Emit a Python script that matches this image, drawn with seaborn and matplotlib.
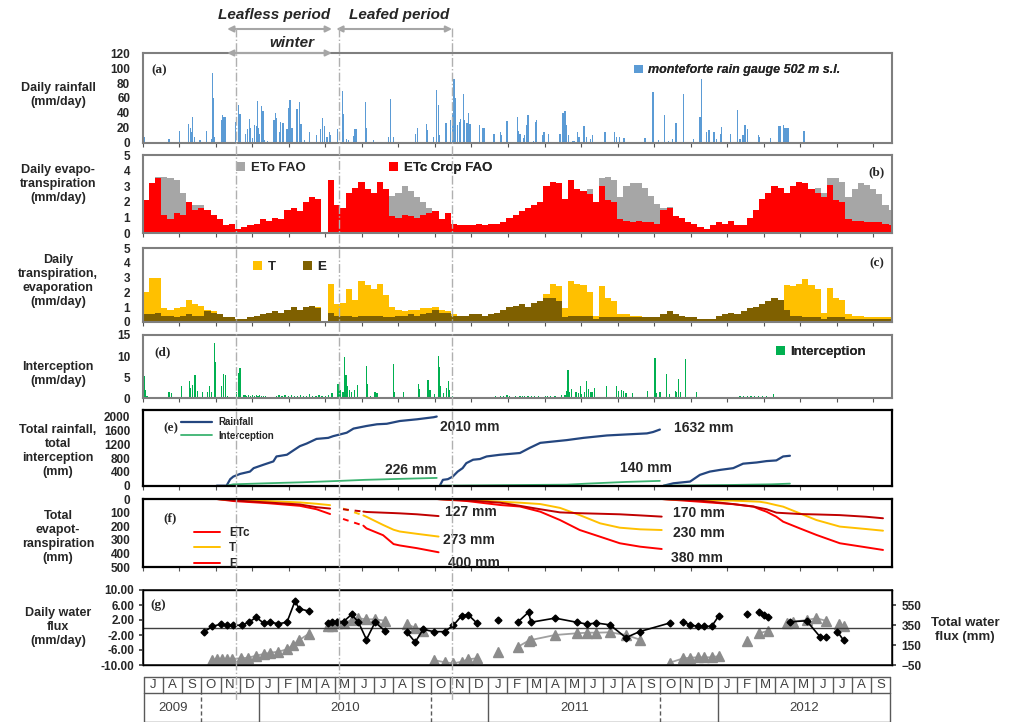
import numpy as np
import matplotlib.pyplot as plt
import matplotlib.transforms as mtransforms
from matplotlib.lines import Line2D
from matplotlib.patches import Patch
from matplotlib.ticker import MultipleLocator, FormatStrFormatter
import seaborn as sns

nan = np.nan

# ---- (a) daily rainfall, day counted from the left edge of the time axis ----
rain_day = [1, 3, 42, 44, 60, 74, 77, 80, 81, 84,
            93, 104, 111, 113, 115, 117, 128, 130, 132, 134,
            151, 155, 158, 159, 167, 170, 173, 175, 178, 181,
            184, 186, 188, 190, 193, 195, 196, 198, 203, 213,
            216, 217, 222, 224, 227, 228, 234, 236, 238, 239,
            241, 243, 250, 251, 255, 257, 263, 270, 271, 282,
            288, 292, 295, 299, 303, 305, 316, 324, 326, 331,
            334, 342, 344, 346, 361, 363, 374, 399, 402, 407,
            442, 446, 460, 462, 472, 477, 480, 482, 492, 499,
            503, 505, 508, 511, 514, 516, 520, 522, 526, 528,
            531, 547, 552, 554, 570, 580, 582, 591, 608, 610,
            612, 618, 620, 623, 625, 634, 637, 639, 649, 651,
            658, 677, 682, 685, 688, 691, 698, 701, 706, 708,
            716, 720, 726, 730, 750, 766, 769, 774, 781, 815,
            828, 837, 846, 853, 860, 865, 877, 894, 904, 906,
            915, 918, 920, 926, 928, 931, 937, 939, 953, 965,
            969, 974, 977, 981, 999, 1001, 1019, 1031, 1034, 1039,
            1042, 1045, 1047, 1073]
rain_mm = [34, 8, 5, 5, 16, 25, 20, 15, 35, 8,
           3, 16, 5, 94, 60, 8, 30, 37, 35, 35,
           28, 50, 38, 38, 12, 18, 32, 20, 6, 24,
           22, 56, 20, 12, 49, 42, 24, 4, 2, 30,
           40, 33, 15, 28, 27, 27, 18, 47, 20, 57,
           20, 20, 45, 45, 55, 25, 4, 14, 8, 10,
           18, 33, 22, 8, 14, 10, 18, 69, 38, 5,
           4, 9, 18, 18, 54, 20, 4, 8, 58, 8,
           12, 20, 25, 17, 7, 71, 50, 10, 26, 30,
           40, 86, 60, 24, 28, 32, 66, 30, 26, 40,
           25, 24, 20, 20, 12, 14, 10, 29, 35, 16,
           12, 6, 10, 24, 37, 2, 28, 30, 10, 15,
           12, 12, 40, 42, 24, 10, 2, 2, 14, 8,
           22, 8, 5, 10, 14, 14, 8, 8, 6, 6,
           68, 3, 37, 2, 5, 27, 66, 5, 35, 85,
           15, 17, 17, 15, 14, 5, 12, 21, 12, 44,
           5, 10, 24, 18, 10, 8, 6, 23, 22, 24,
           20, 20, 20, 16]

# ---- (b), (c) evapotranspiration terms, 10-day blocks ----
et_day = np.arange(0, 1220, 10)
eto = [2.1, 3.2, 3.6, 3.6, 3.5, 3.4, 2.6, 2.0, 1.8, 1.8,
       1.5, 1.2, 0.9, 0.5, 0.6, 0.3, 0.4, 0.5, 0.6, 0.9,
       0.8, 1.0, 0.9, 1.5, 1.6, 1.4, 2.0, 2.3, 2.2, 0.0,
       3.4, 1.8, 1.6, 2.6, 2.9, 3.3, 2.8, 2.6, 3.3, 2.8,
       2.4, 2.6, 3.0, 2.7, 2.3, 2.0, 1.6, 1.4, 0.9, 1.3,
       0.6, 0.5, 0.5, 0.5, 0.6, 0.5, 0.6, 0.6, 0.7, 1.0,
       1.2, 1.4, 1.6, 1.8, 2.0, 3.0, 3.3, 3.2, 2.2, 3.4,
       2.8, 2.7, 2.8, 2.0, 3.5, 3.6, 3.4, 2.3, 3.0, 3.2,
       3.2, 2.9, 2.4, 1.9, 1.6, 1.7, 1.1, 1.0, 0.7, 0.6,
       0.4, 0.3, 0.5, 0.7, 0.6, 0.8, 0.5, 0.5, 1.0, 1.5,
       2.2, 2.6, 3.0, 2.9, 2.6, 3.0, 3.3, 3.2, 2.8, 2.9,
       2.6, 3.5, 3.5, 3.3, 2.3, 2.8, 3.2, 3.1, 2.8, 2.5,
       1.8, 1.5]
etc = [2.1, 3.2, 3.5, 1.2, 0.9, 1.3, 1.2, 2.0, 1.5, 1.6,
       1.5, 1.2, 0.9, 0.5, 0.6, 0.3, 0.4, 0.5, 0.6, 0.9,
       0.8, 1.0, 0.9, 1.5, 1.6, 1.4, 2.0, 2.3, 2.2, 0.0,
       3.4, 1.8, 1.6, 2.6, 2.9, 3.3, 2.8, 2.6, 3.3, 2.8,
       1.1, 1.0, 1.2, 1.1, 1.0, 1.2, 1.3, 1.4, 0.9, 1.3,
       0.6, 0.5, 0.5, 0.5, 0.6, 0.5, 0.6, 0.6, 0.7, 1.0,
       1.2, 1.4, 1.6, 1.8, 2.0, 3.0, 3.3, 3.2, 2.2, 3.4,
       2.8, 2.7, 2.5, 2.0, 3.0, 2.1, 2.0, 0.9, 0.8, 0.7,
       0.8, 0.7, 0.7, 0.6, 1.5, 1.6, 1.1, 1.0, 0.7, 0.6,
       0.4, 0.3, 0.5, 0.7, 0.6, 0.8, 0.5, 0.5, 1.0, 1.5,
       2.2, 2.6, 3.0, 2.9, 2.6, 3.0, 3.3, 3.2, 2.8, 2.6,
       2.3, 3.1, 2.1, 2.0, 0.9, 0.8, 0.8, 0.7, 0.7, 0.7,
       0.6, 0.5]
transp = [2.0, 3.0, 3.0, 0.9, 0.8, 0.9, 1.0, 1.5, 1.2, 1.1,
          0.8, 0.7, 0.5, 0.3, 0.3, 0.2, 0.2, 0.3, 0.4, 0.5,
          0.6, 0.7, 0.6, 0.8, 1.0, 0.8, 1.0, 1.1, 1.0, 0.0,
          2.6, 1.2, 1.3, 2.2, 1.5, 2.8, 2.5, 2.2, 2.6, 1.8,
          1.0, 0.8, 0.7, 0.8, 0.8, 0.9, 0.9, 1.0, 0.8, 0.7,
          0.5, 0.4, 0.4, 0.5, 0.5, 0.4, 0.5, 0.6, 0.8, 1.0,
          1.1, 1.2, 1.0, 1.3, 1.4, 1.9, 2.6, 2.4, 0.9, 2.8,
          2.6, 2.5, 2.0, 0.4, 2.4, 1.6, 1.4, 0.5, 0.5, 0.4,
          0.4, 0.3, 0.3, 0.3, 0.5, 0.7, 0.5, 0.4, 0.3, 0.3,
          0.2, 0.2, 0.2, 0.4, 0.5, 0.6, 0.5, 0.7, 0.9, 1.0,
          1.2, 1.4, 1.6, 1.5, 2.5, 2.4, 2.6, 2.9, 2.5, 2.2,
          0.6, 2.3, 1.6, 1.5, 0.5, 0.4, 0.4, 0.3, 0.3, 0.3,
          0.3, 0.3]
evap = [0.5, 0.5, 0.6, 0.4, 0.4, 0.3, 0.4, 0.5, 0.4, 0.4,
        0.7, 0.6, 0.5, 0.3, 0.3, 0.2, 0.2, 0.3, 0.4, 0.5,
        0.6, 0.7, 0.6, 0.8, 1.0, 0.8, 1.0, 1.1, 0.9, 0.0,
        0.6, 0.4, 0.4, 0.4, 0.3, 0.4, 0.4, 0.4, 0.4, 0.3,
        0.3, 0.4, 0.4, 0.5, 0.4, 0.5, 0.6, 0.8, 0.6, 0.6,
        0.4, 0.4, 0.4, 0.5, 0.5, 0.4, 0.5, 0.6, 0.8, 1.0,
        1.1, 1.2, 1.0, 1.3, 1.4, 1.6, 1.6, 1.4, 0.3, 0.4,
        0.4, 0.4, 0.4, 0.2, 0.3, 0.3, 0.3, 0.3, 0.3, 0.3,
        0.3, 0.3, 0.3, 0.3, 0.5, 0.7, 0.5, 0.4, 0.3, 0.3,
        0.2, 0.2, 0.2, 0.4, 0.5, 0.6, 0.5, 0.7, 0.9, 1.0,
        1.2, 1.4, 1.6, 1.5, 0.8, 0.4, 0.4, 0.3, 0.3, 0.3,
        0.2, 0.3, 0.3, 0.3, 0.2, 0.2, 0.2, 0.2, 0.2, 0.2,
        0.2, 0.2]

# ---- (d) interception ----
icpt_day = [0, 2, 4, 7, 42, 44, 47, 63, 76, 78,
            81, 85, 89, 97, 105, 108, 112, 117, 118, 128,
            131, 134, 137, 152, 155, 158, 163, 166, 169, 172,
            175, 178, 181, 184, 187, 190, 193, 196, 199, 217,
            221, 226, 231, 236, 241, 246, 251, 256, 261, 266,
            271, 276, 281, 286, 291, 296, 301, 307, 317, 320,
            325, 328, 330, 332, 335, 339, 344, 348, 363, 365,
            370, 377, 380, 407, 409, 423, 447, 449, 463, 466,
            473, 480, 481, 483, 488, 493, 496, 498, 502, 572,
            580, 585, 591, 595, 605, 612, 616, 620, 625, 631,
            636, 642, 653, 657, 661, 669, 680, 685, 688, 690,
            692, 696, 703, 707, 710, 712, 717, 720, 723, 726,
            729, 733, 753, 769, 772, 777, 780, 784, 795, 819,
            831, 834, 838, 840, 850, 855, 864, 866, 869, 872,
            880, 881, 898, 904, 910, 916, 922, 928, 934, 940,
            946, 952, 958, 969, 975, 981, 987, 993, 999, 1005,
            1012, 1023, 1034, 1040, 1046, 1052]
icpt_mm = [2.0, 5.2, 2.0, 0.5, 1.6, 1.6, 1.2, 2.8, 4.0, 2.5,
           3.2, 5.5, 1.8, 1.6, 1.5, 2.8, 1.5, 13.0, 8.5, 3.0,
           5.8, 5.5, 0.5, 1.5, 6.0, 7.2, 0.9, 0.7, 0.6, 0.8,
           0.6, 0.7, 0.6, 0.8, 0.6, 0.7, 0.6, 0.5, 0.6, 0.6,
           0.7, 0.5, 0.8, 0.6, 0.7, 0.5, 0.6, 0.8, 0.5, 0.6,
           1.0, 0.5, 0.6, 0.7, 0.5, 0.6, 0.8, 1.2, 3.5, 2.0,
           1.5, 9.7, 5.5, 3.0, 2.0, 1.5, 2.0, 3.2, 7.6, 3.5,
           0.5, 1.5, 1.2, 8.2, 1.5, 1.4, 3.4, 2.2, 4.3, 2.0,
           1.0, 10.0, 7.3, 3.0, 1.2, 2.5, 4.2, 2.0, 0.5, 0.5,
           0.5, 0.5, 0.8, 0.5, 0.5, 0.6, 0.6, 0.6, 0.6, 0.6,
           0.5, 0.5, 0.5, 0.5, 0.5, 0.5, 0.8, 0.8, 1.8, 6.7,
           1.5, 2.3, 1.5, 1.2, 2.8, 1.0, 1.5, 4.0, 2.2, 1.5,
           1.5, 2.4, 2.8, 2.8, 1.8, 1.9, 1.7, 1.2, 1.2, 1.8,
           9.6, 1.2, 1.5, 1.6, 5.8, 1.0, 1.8, 1.6, 4.6, 1.4,
           9.4, 3.6, 1.5, 0.4, 0.4, 0.4, 0.4, 0.4, 0.4, 0.4,
           0.4, 0.4, 0.4, 0.5, 0.5, 0.5, 0.5, 0.5, 0.6, 0.5,
           0.5, 1.0, 0.4, 0.4, 0.4, 0.4]

# ---- (e) cumulative rainfall and interception per hydrological year ----
rain1_day = [120, 136, 142, 147, 158, 174, 180, 196, 212, 217, 234, 244, 255,
             266, 282, 301, 309, 331, 342, 363, 380, 396, 417, 445, 472, 477]
rain1_cum = [0, 0, 190, 265, 343, 410, 510, 610, 706, 850, 900, 1020, 1150,
             1225, 1360, 1390, 1440, 1540, 1660, 1735, 1785, 1800, 1880, 1930, 1990, 2010]
rain2_day = [482, 487, 495, 503, 511, 519, 525, 536, 547, 558, 580,
             612, 628, 645, 661, 688, 715, 753, 785, 818, 828, 839]
rain2_cum = [0, 170, 190, 265, 410, 510, 655, 755, 775, 850, 900,
             950, 1100, 1245, 1275, 1325, 1390, 1460, 1490, 1520, 1560, 1632]
rain3_day = [845, 861, 877, 888, 904, 920, 937, 958, 974, 996, 1012, 1028, 1039, 1050]
rain3_cum = [0, 70, 100, 120, 315, 410, 460, 510, 640, 675, 715, 735, 850, 870]
icum1_day = [136, 147, 200, 260, 320, 360, 420, 477]
icum1 = [0, 40, 70, 100, 140, 170, 200, 226]
icum2_day = [482, 612, 688, 720, 785, 839]
icum2 = [0, 20, 30, 60, 110, 140]
icum3_day = [845, 950, 1020, 1050]
icum3 = [0, 20, 40, 60]

# ---- (f) cumulative ETc, T, E ----
f1a_day = [120, 147, 201, 255, 282, 304]
f1a_etc = [0, 15, 30, 50, 75, 110]
f1a_t = [0, 5, 15, 25, 35, 45]
f1a_e = [0, 10, 25, 40, 60, 70]
f1b_day = [325, 358]
f1b_etc = [146, 195]
f1b_t = [70, 120]
f1b_e = [75, 92]
f1c_day = [358, 363, 390, 407, 417, 445, 480]
f1c_etc = [195, 215, 265, 330, 340, 360, 390]
f1c_t = [120, 130, 190, 225, 238, 255, 275]
f1c_e = [92, 95, 100, 103, 105, 112, 125]
f2_day = [477, 526, 580, 612, 645, 677, 709, 742, 774, 807, 842]
f2_etc = [0, 15, 44, 55, 93, 154, 227, 276, 324, 349, 366]
f2_t = [0, 5, 20, 27, 37, 65, 118, 178, 210, 222, 227]
f2_e = [0, 10, 27, 50, 75, 98, 104, 108, 112, 120, 129]
f3_day = [842, 904, 958, 991, 1001, 1012, 1028, 1039, 1066, 1093, 1131, 1174, 1201]
f3_etc = [0, 20, 38, 56, 75, 93, 130, 166, 215, 263, 324, 354, 373]
f3_t = [0, 8, 12, 18, 20, 28, 45, 56, 105, 154, 202, 220, 232]
f3_e = [0, 12, 37, 55, 65, 75, 100, 103, 110, 113, 118, 130, 141]

# ---- (g) daily water flux (left) and total water flux (right) ----
flux_day = [100, 113, 127, 136, 147, 161, 173, 184, 196, 207, 220, 234, 247, 254, 269, nan,
            301, 307, 315, 326, 339, 350, 363, 377, 393, nan,
            428, 442, 455, 472, 490, 504, 518, 528, 542, nan,
            576, nan,
            609, 626, 630, 669, 704, 721, 736, 758, 784, 806, 855, nan,
            877, 888, 901, 911, 923, 935, nan,
            981, nan,
            1000, 1008, 1015, nan,
            1050, 1077, 1099, 1109, nan,
            1127, 1137]
flux_val = [-1.1, 0.3, 0.9, 0.6, 0.6, 0.6, 1.5, 2.7, 1.2, 1.4, 1.0, 1.4, 7.0, 5.0, 4.4, nan,
            1.1, 1.6, 1.6, 1.6, 3.5, 1.4, -3.2, 1.4, -0.9, nan,
            -1.1, -3.9, -0.5, -1.1, -1.1, 0.6, 3.2, 3.4, 1.2, nan,
            2.0, nan,
            1.5, 4.1, 1.4, 2.5, 1.4, 0.9, 1.2, 0.7, -2.7, -1.1, 1.2, nan,
            1.4, 0.7, 0.3, 0.3, 0.3, 3.2, nan,
            3.6, nan,
            4.1, 3.4, 2.7, nan,
            1.5, 1.8, -2.5, -2.5, nan,
            -1.1, -3.4]
tot_day = [113, 121, 129, 136, 145, 159, 171, 184, 196, 207, 220, 234, 244, 254, 269, nan,
           301, 307, 315, 326, 339, 350, 363, 377, 393, nan,
           428, 442, 455, nan,
           472, 490, 504, 518, 528, 542, nan,
           576, nan,
           609, 626, 630, 669, 704, 721, 736, 758, 784, 806, nan,
           855, 877, 888, 901, 911, 923, 935, nan,
           981, nan,
           1000, 1015, nan,
           1045, 1055, 1077, 1093, 1108, nan,
           1129, 1137]
tot_val = [0, 7, 7, 10, 10, 17, 23, 43, 60, 73, 83, 107, 150, 200, 260, nan,
           340, 340, 367, 373, 400, 417, 407, 407, 393, nan,
           360, 323, 290, nan,
           0, -23, -33, -17, 7, 17, nan,
           83, nan,
           133, 193, 200, 250, 267, 273, 273, 277, 250, 205, nan,
           -27, 17, 23, 27, 27, 27, 40, nan,
           193, nan,
           267, 293, nan,
           367, 383, 400, 417, 393, nan,
           360, 343]

# ---- period markers and calendar strip ----
period_lines = [151, 318, 502]
months = list("JASONDJFMAMJJASONDJFMAMJJASONDJFMAMJJAS")
year_labels = ["2009", "", "2010", "", "2011", "", "2012"]
year_months = [3, 3, 9, 3, 9, 3, 9]

sns.set_theme(style="white")
plt.rcParams["font.family"] = ["Liberation Sans", "DejaVu Sans"]
plt.rcParams["font.weight"] = "bold"

BLUE, GRAY, RED, DARKRED = "#5B9BD5", "#A6A6A6", "#FF0000", "#C00000"
YELLOW, BROWN, GREEN = "#FFC000", "#7F6000", "#00B050"
NAVY, LGREEN = "#24467F", "#3CB371"
TICK = 8.5

W, H = 1011.0, 722.0
L, R = 142.7, 892.0
XMAX = (R - L) / 0.6164

fig = plt.figure(figsize=(W / 100, H / 100), dpi=100)


def panel(top, bottom, left=L, right=R):
    return fig.add_axes([left / W, 1 - bottom / H, (right - left) / W, (bottom - top) / H])


def style(ax, edge="#7F7F7F", lw=1.5, xticks=True):
    ax.set_xlim(0, XMAX)
    ax.xaxis.set_major_locator(MultipleLocator(59.26))
    ax.tick_params(axis="x", bottom=xticks, length=3, width=0.8, color="#555555",
                   labelbottom=False, direction="out")
    ax.tick_params(axis="y", left=False, labelsize=TICK, pad=3)
    for s in ax.spines.values():
        s.set_color(edge)
        s.set_linewidth(lw)
    ax.grid(False)


def tag(ax, s, x, y, ha="left"):
    ax.text(x, y, s, transform=ax.transAxes, ha=ha, va="center", fontsize=9.5,
            fontweight="bold", family="Liberation Serif")


def square_key(ax, color, label, x, y, size=9.5, style_="normal"):
    leg = ax.legend([Patch(facecolor=color, edgecolor="none")], [label], loc="center left",
                    bbox_to_anchor=(x, y), frameon=False, borderpad=0, borderaxespad=0,
                    handlelength=0.7, handleheight=0.7, handletextpad=0.4,
                    prop=dict(size=size, weight="bold", style=style_))
    ax.add_artist(leg)


# (a)
ax_a = panel(53.3, 142.7)
style(ax_a)
ax_a.bar(rain_day, rain_mm, width=2.0, color=BLUE, linewidth=0)
ax_a.set_ylim(0, 120)
ax_a.set_yticks(range(0, 121, 20))
tag(ax_a, "(a)", 0.012, 0.81)
square_key(ax_a, BLUE, "monteforte rain gauge 502 m s.l.", 0.656, 0.81, size=9, style_="italic")

# (b)
ax_b = panel(155, 233.3)
style(ax_b)
ax_b.bar(et_day, eto, width=10, align="edge", color=GRAY, linewidth=0)
ax_b.bar(et_day, etc, width=10, align="edge", color=RED, linewidth=0)
ax_b.set_ylim(0, 5)
ax_b.set_yticks(range(0, 6))
tag(ax_b, "(b)", 0.99, 0.78, ha="right")
square_key(ax_b, GRAY, "ETo FAO", (236 - L) / (R - L), 0.83)
square_key(ax_b, RED, "ETc Crop FAO", (389 - L) / (R - L), 0.83)

# (c)
ax_c = panel(248.3, 321.7)
style(ax_c)
ax_c.bar(et_day, transp, width=10, align="edge", color=YELLOW, linewidth=0)
ax_c.bar(et_day, evap, width=10, align="edge", color=BROWN, linewidth=0)
ax_c.set_ylim(0, 5)
ax_c.set_yticks(range(0, 6))
tag(ax_c, "(c)", 0.99, 0.79, ha="right")
square_key(ax_c, YELLOW, "T", (253 - L) / (R - L), 0.75)
square_key(ax_c, BROWN, "E", (303 - L) / (R - L), 0.75)

# (d)
ax_d = panel(335, 398.3)
style(ax_d)
ax_d.bar(icpt_day, icpt_mm, width=2.0, color=GREEN, linewidth=0)
ax_d.set_ylim(0, 15)
ax_d.set_yticks([0, 5, 10, 15])
tag(ax_d, "(d)", 0.016, 0.73)
square_key(ax_d, GREEN, "Interception", (776 - L) / (R - L), 0.73)

# (e)
ax_e = panel(410, 485.7)
style(ax_e, edge="black", lw=1.6)
for d, v in [(rain1_day, rain1_cum), (rain2_day, rain2_cum), (rain3_day, rain3_cum)]:
    sns.lineplot(x=d, y=v, ax=ax_e, color=NAVY, lw=1.6, estimator=None, sort=False)
for d, v in [(icum1_day, icum1), (icum2_day, icum2), (icum3_day, icum3)]:
    sns.lineplot(x=d, y=v, ax=ax_e, color=LGREEN, lw=1.3, estimator=None, sort=False)
ax_e.set_ylim(0, 2200)
ax_e.set_yticks(range(0, 2001, 400))
ax_e.set_xlabel("")
tag(ax_e, "(e)", 0.027, 0.76)
ax_e.legend([Line2D([], [], color=NAVY, lw=1.6), Line2D([], [], color=LGREEN, lw=1.3)],
            ["Rainfall", "Interception"], loc="upper left", bbox_to_anchor=(0.045, 0.97),
            frameon=False, borderpad=0, handlelength=3.2, handletextpad=0.6,
            labelspacing=0.35, prop=dict(size=7, weight="bold"))
for s, d, v in [("2010 mm", 482, 1706), ("226 mm", 393, 456),
                ("1632 mm", 862, 1680), ("140 mm", 775, 515)]:
    ax_e.text(d, v, s, ha="left", va="center", fontsize=10, fontweight="bold")

# (f)
ax_f = panel(499, 567.3)
style(ax_f, edge="black", lw=1.6)
for d, et, t, e, ls in [(f1a_day, f1a_etc, f1a_t, f1a_e, "-"),
                        (f1b_day, f1b_etc, f1b_t, f1b_e, (0, (3, 3))),
                        (f1c_day, f1c_etc, f1c_t, f1c_e, "-"),
                        (f2_day, f2_etc, f2_t, f2_e, "-"),
                        (f3_day, f3_etc, f3_t, f3_e, "-")]:
    ax_f.plot(d, et, color=RED, lw=1.4, ls=ls)
    ax_f.plot(d, t, color=YELLOW, lw=1.4, ls=ls)
    ax_f.plot(d, e, color=DARKRED, lw=1.4, ls=ls)
ax_f.set_ylim(500, 0)
ax_f.set_yticks(range(0, 501, 100))
tag(ax_f, "(f)", 0.027, 0.72)
ax_f.legend([Line2D([], [], color=RED, lw=1.4), Line2D([], [], color=YELLOW, lw=1.4),
             Line2D([], [], color=RED, lw=1.4)], ["ETc", "T", "E"],
            loc="upper left", bbox_to_anchor=(0.06, 0.68), frameon=False, borderpad=0,
            handlelength=2.2, handletextpad=0.8, labelspacing=0.3,
            prop=dict(size=8.5, weight="bold"))
for s, d, v in [("127 mm", 490, 95), ("273 mm", 487, 300), ("400 mm", 495, 468),
                ("170 mm", 860, 102), ("230 mm", 860, 249), ("380 mm", 857, 432)]:
    ax_f.text(d, v, s, ha="left", va="center", fontsize=10, fontweight="bold")

# (g)
ax_g = panel(590, 665)
style(ax_g, edge="black", lw=1.0, xticks=False)
ax_g.axhline(0, color="#404040", lw=1)
ax_g2 = ax_g.twinx()
ax_g2.plot(tot_day, tot_val, color="#A0A0A0", lw=1.3, marker="^", ms=6.5,
           mfc="#8C8C8C", mec="#8C8C8C")
ax_g2.set_ylim(-50, 700)
ax_g2.set_yticks([-50, 150, 350, 550])
ax_g2.tick_params(axis="y", right=True, length=3, color="#404040", labelsize=TICK, pad=4)
ax_g2.grid(False)
ax_g.set_zorder(ax_g2.get_zorder() + 1)
ax_g.patch.set_visible(False)
ax_g.plot(flux_day, flux_val, color="black", lw=1.2, marker="D", ms=3.5)
ax_g.set_ylim(-10, 10)
ax_g.set_yticks([-10, -6, -2, 2, 6, 10])
ax_g.yaxis.set_major_formatter(FormatStrFormatter("%.2f"))
ax_g.tick_params(axis="y", left=True, length=3, color="#404040")
tag(ax_g, "(g)", 0.01, 0.8)

# calendar strip
ax_t = panel(676.7, 721.7, 144, 890)
ax_t.set_xlim(0, len(months))
ax_t.set_ylim(0, 1)
ax_t.axis("off")
split = 0.63
kw = dict(color="#595959", lw=1, clip_on=False)
for yy in (0, split, 1):
    ax_t.plot([0, len(months)], [yy, yy], **kw)
for i in range(len(months) + 1):
    ax_t.plot([i, i], [split, 1], **kw)
for i, m in enumerate(months):
    ax_t.text(i + 0.5, (1 + split) / 2, m, ha="center", va="center", fontsize=9.5,
              color="#404040", fontweight="normal")
edges = np.concatenate([[0], np.cumsum(year_months)])
for k, lab in enumerate(year_labels):
    a, b = edges[k], edges[k + 1]
    ax_t.plot([a, a], [0, split], ls=(0, (3, 2)) if lab == "" else "-", **kw)
    if lab:
        ax_t.text((a + b) / 2, split / 2, lab, ha="center", va="center", fontsize=9.5,
                  color="#404040", fontweight="normal")
ax_t.plot([edges[-1], edges[-1]], [0, split], **kw)

# period markers above the panels
trans = mtransforms.blended_transform_factory(ax_a.transData, fig.transFigure)
for d in period_lines:
    fig.add_artist(Line2D([d, d], [1 - 28 / H, 1 - 700 / H], transform=trans,
                          color="#B0B0B0", lw=1, ls="-."))
arrow = dict(arrowstyle="<|-|>", color="#A6A6A6", lw=1.5, shrinkA=0, shrinkB=0,
             mutation_scale=9)
for d0, d1, yp in [(137, 307, 29), (314, 502, 29), (137, 307, 53)]:
    ax_a.annotate("", xy=(d1, 1 - yp / H), xytext=(d0, 1 - yp / H), xycoords=trans,
                  textcoords=trans, arrowprops=arrow, annotation_clip=False)
for s, d, yp in [("Leafless period", 213, 15), ("Leafed period", 416, 15), ("winter", 242, 43)]:
    ax_a.text(d, 1 - yp / H, s, transform=trans, ha="center", va="center",
              fontsize=11, fontweight="bold", style="italic")

# row titles
for s, yp in [("Daily rainfall\n(mm/day)", 95),
              ("Daily evapo-\ntranspiration\n(mm/day)", 184),
              ("Daily\ntranspiration,\nevaporation\n(mm/day)", 281),
              ("Interception\n(mm/day)", 374),
              ("Total rainfall,\ntotal\ninterception\n(mm)", 451),
              ("Total\nevapot-\nranspiration\n(mm)", 537),
              ("Daily water\nflux\n(mm/day)", 627)]:
    fig.text(58 / W, 1 - yp / H, s, ha="center", va="center", fontsize=9,
             fontweight="bold", linespacing=1.25)
fig.text(965 / W, 1 - 630 / H, "Total water\nflux (mm)", ha="center", va="center",
         fontsize=9.5, fontweight="bold", linespacing=1.3)

fig.savefig("out.png", dpi=100)
